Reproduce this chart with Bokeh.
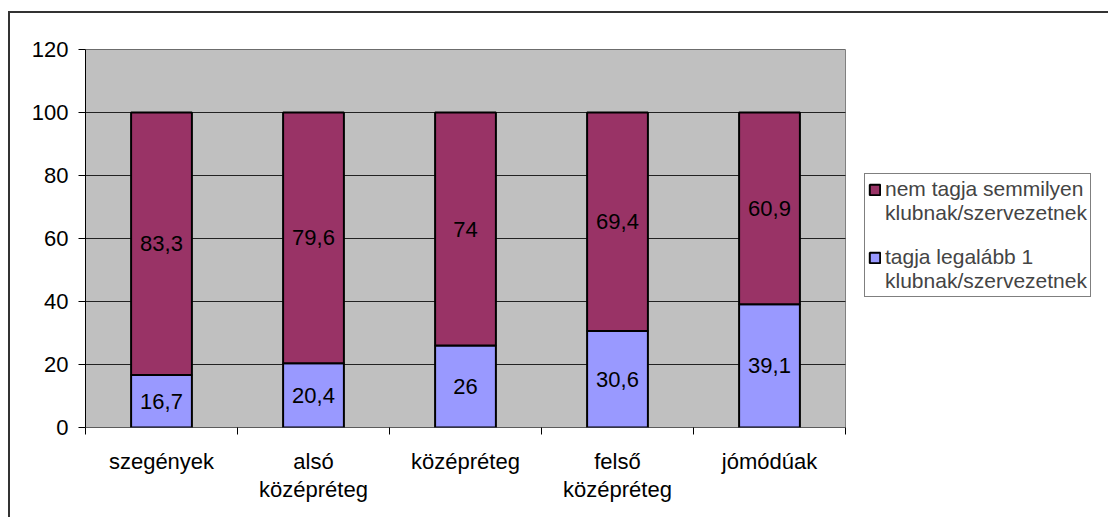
from bokeh.plotting import figure
from bokeh.models import ColumnDataSource, FixedTicker, Legend, LegendItem, Range1d
from bokeh.core.properties import value
from bokeh.embed import file_html
from bokeh.resources import INLINE

categories = ["szegények", "alsó\nközépréteg", "középréteg", "felső\nközépréteg", "jómódúak"]
tagja = [16.7, 20.4, 26, 30.6, 39.1]
nem_tagja = [83.3, 79.6, 74, 69.4, 60.9]
series_nem = ["nem tagja semmilyen", "klubnak/szervezetnek"]
series_tagja = ["tagja legalább 1", "klubnak/szervezetnek"]
y_ticks = [0, 20, 40, 60, 80, 100, 120]

FONT = "Liberation Sans"
FS = "22px"
C_NEM = "#993366"
C_TAG = "#9999FF"

N = len(categories)
PLOT_PX = 760      # width of grey plot area
FRAME_PX = 1025    # frame incl. legend zone
X_MAX = N * FRAME_PX / PLOT_PX


def fmt(v):
    return ("%g" % v).replace(".", ",")


xs = [i + 0.5 for i in range(N)]
src = ColumnDataSource(dict(
    x=xs,
    tagja=tagja,
    nem=nem_tagja,
    tagja_mid=[t / 2 for t in tagja],
    nem_mid=[t + n / 2 for t, n in zip(tagja, nem_tagja)],
    tagja_lbl=[fmt(v) for v in tagja],
    nem_lbl=[fmt(v) for v in nem_tagja],
))

p = figure(width=1100, height=506, output_backend="svg", toolbar_location=None,
           x_range=Range1d(0, X_MAX), y_range=Range1d(0, y_ticks[-1]),
           min_border_left=75, min_border_right=0, min_border_top=36, min_border_bottom=92,
           background_fill_color="white", border_fill_color="white",
           styles={"border-left": "2px solid #333", "border-top": "2px solid #333",
                   "margin-top": "11px", "margin-left": "8px"})
p.outline_line_color = None
p.xgrid.visible = False
p.ygrid.visible = False

# grey plot area
p.quad(left=[0], right=[N], bottom=[y_ticks[0]], top=[y_ticks[-1]],
       fill_color="#C0C0C0", line_color="#808080", line_width=1)
# horizontal gridlines
p.segment(x0=[0] * (len(y_ticks) - 1), x1=[N] * (len(y_ticks) - 1),
          y0=y_ticks[1:], y1=y_ticks[1:], line_color="#222222", line_width=1)
# x axis line
p.segment(x0=[0], x1=[N], y0=[0], y1=[0], line_color="black", line_width=1)

rs = p.vbar_stack(["tagja", "nem"], x="x", width=0.4, source=src,
                  color=[C_TAG, C_NEM], line_color="black", line_width=2)
for r, c in zip(rs, [C_TAG, C_NEM]):
    r.glyph.fill_color = c
    r.glyph.line_color = "black"

p.text(x="x", y="tagja_mid", text="tagja_lbl", source=src, text_align="center",
       text_baseline="middle", text_font=value(FONT), text_font_size=FS, text_color="black")
p.text(x="x", y="nem_mid", text="nem_lbl", source=src, text_align="center",
       text_baseline="middle", text_font=value(FONT), text_font_size=FS, text_color="black")

# y axis
p.yaxis.ticker = FixedTicker(ticks=y_ticks)
p.yaxis.major_tick_out = 7
p.yaxis.major_tick_in = 0
p.yaxis.minor_tick_line_color = None
p.yaxis.axis_line_color = "black"
p.yaxis.major_tick_line_color = "black"
p.yaxis.major_label_text_font = FONT
p.yaxis.major_label_text_font_size = FS
p.yaxis.major_label_text_color = "black"
p.yaxis.major_label_standoff = 10

# x axis
p.xaxis.ticker = FixedTicker(ticks=xs, minor_ticks=list(range(N + 1)))
p.xaxis.major_label_overrides = {x: c for x, c in zip(xs, categories)}
p.xaxis.major_tick_line_color = None
p.xaxis.major_tick_out = 0
p.xaxis.major_tick_in = 0
p.xaxis.minor_tick_out = 7
p.xaxis.minor_tick_in = 0
p.xaxis.minor_tick_line_color = "black"
p.xaxis.axis_line_color = None
p.xaxis.major_label_text_font = FONT
p.xaxis.major_label_text_font_size = FS
p.xaxis.major_label_text_color = "black"
p.xaxis.major_label_standoff = 14
p.xaxis.major_label_text_line_height = 1.15

# invisible renderer for text-only legend rows
blank = p.scatter(x=[], y=[], fill_alpha=0, line_alpha=0)

legend = Legend(items=[LegendItem(label=series_nem[0], renderers=[rs[1]]),
                       LegendItem(label=series_nem[1], renderers=[blank]),
                       LegendItem(label=" ", renderers=[blank]),
                       LegendItem(label=series_tagja[0], renderers=[rs[0]]),
                       LegendItem(label=series_tagja[1], renderers=[blank])],
                location=(779, 130), orientation="vertical",
                label_text_font=FONT, label_text_font_size="21px",
                label_height=20, glyph_width=13, glyph_height=13,
                border_line_color="black", border_line_width=1,
                background_fill_color="white", background_fill_alpha=1,
                padding=3, spacing=0, label_standoff=4, margin=0)
p.add_layout(legend, "center")

open("out.html", "w").write(file_html(p, INLINE))
